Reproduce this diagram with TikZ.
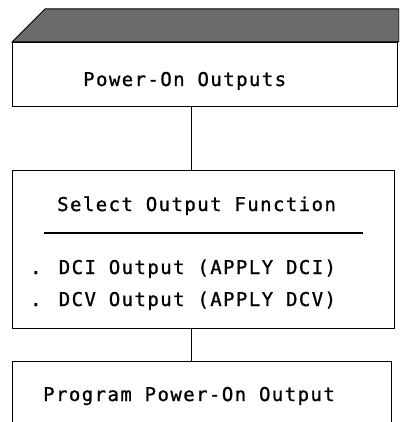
\documentclass[tikz,border=0pt]{standalone}
\usepackage{fontspec}
\newfontfamily\plotfont[LetterSpace=7.5, FakeBold=1]{DejaVu Sans Mono}
\begin{document}
\begin{tikzpicture}[x=1pt, y=-1pt,
    box/.style={draw, line width=1.3pt, inner sep=0pt, anchor=north west},
    txt/.style={font=\plotfont\fontsize{19}{22}\selectfont, inner sep=0pt, anchor=base west},
    wire/.style={line width=1pt}]
                \useasboundingbox (0,0) rectangle (399,422);
                \clip (0,0) rectangle (399,422);

                % Shaded top band
                \filldraw[fill=black!58, line width=1pt] (45,9) -- (399,9) -- (399,42) -- (12,42) -- cycle;

                % Boxes
                \node[box, minimum width=385pt, minimum height=64pt] (pwr) at (12,42) {};
                \node[box, minimum width=382pt, minimum height=158pt] (sel) at (12,170) {};
                \node[box, minimum width=379pt, minimum height=90pt] (prog) at (12,361) {};

                % Labels
                \node[txt] (pwrtxt) at (83,86) {Power-On Outputs};
                \node[txt] (seltxt) at (57,211) {Select Output Function};
                \draw[line width=1.2pt] (44,233) -- (363,233);
                \node[txt] (dcitxt) at (30,274) {. DCI Output (APPLY DCI)};
                \node[txt] (dcvtxt) at (30,306) {. DCV Output (APPLY DCV)};
                \node[txt] (progtxt) at (43,401) {Program Power-On Output};

                % Connectors
                \coordinate (cx) at (191,0);
                \draw[wire] (pwr.south -| cx) -- (sel.north -| cx);
                \draw[wire] (sel.south -| cx) -- (prog.north -| cx);
            \end{tikzpicture}
\end{document}
